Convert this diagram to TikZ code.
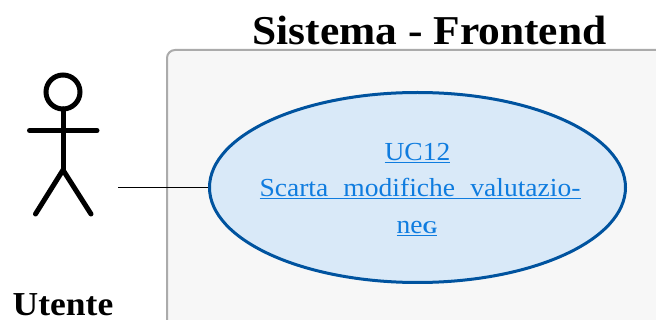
\documentclass[tikz,border=0pt]{standalone}
\usepackage{fontspec}
\setmainfont{Liberation Serif}
\newfontfamily\titlefont[FakeStretch=1.06]{Liberation Serif}
\newfontfamily\bodyfont[FakeStretch=1.06]{Liberation Serif}
\usetikzlibrary{shapes.geometric}
\definecolor{sysfill}{HTML}{F7F7F7}
\definecolor{sysdraw}{HTML}{ABABAB}
\definecolor{ucfill}{HTML}{D9E9F8}
\definecolor{ucdraw}{HTML}{00539F}
\definecolor{uctext}{HTML}{0F7CDF}
\tikzset{
  actorline/.style={line width=5pt,line cap=round,black},
  titletext/.style={font=\titlefont\bfseries\fontsize{41}{46}\selectfont,inner sep=0pt,anchor=base},
  actortext/.style={font=\titlefont\bfseries\fontsize{33.5}{38}\selectfont,inner sep=0pt,anchor=base},
  uctextstyle/.style={font=\bodyfont\fontsize{26}{30}\selectfont,text=uctext,inner sep=0pt,anchor=base},
  usecase/.style={ellipse,draw=ucdraw,fill=ucfill,line width=3pt,minimum width=416pt,minimum height=190pt,inner sep=0pt},
  link/.style={line width=1.3pt,black}
}
\begin{document}
\begin{tikzpicture}[x=1pt,y=-1pt]
\useasboundingbox (0,0) rectangle (656,320);
\clip (0,0) rectangle (656,320);
\draw[sysdraw,fill=sysfill,line width=2pt,rounded corners=8pt] (167,50) rectangle (680,345);
\node[titletext] (title) at (429.5,45) {Sistema - Frontend};
\draw[actorline] (63,92) circle[radius=17];
\draw[actorline] (63,109) -- (63,170);
\draw[actorline] (29.5,130.5) -- (97,130.5);
\draw[actorline] (35.5,214) -- (63,170) -- (91,214);
\node[actortext] (actorlabel) at (63,316) {Utente};
\node[usecase] (uc) at (417.5,187.5) {};
\coordinate (actorend) at (118,187.5);
\draw[link] (actorend) -- (uc.west);
\node[uctextstyle] (l1) at (417.5,161) {\underline{UC12}};
\node[uctextstyle] (l2) at (420,197) {\underline{\makebox[321pt][s]{Scarta\hfil modifiche\hfil valutazio-}}};
\node[uctextstyle] (l3) at (417,234) {\underline{ne{\fontsize{18}{20}\selectfont\bfseries G}}};
\end{tikzpicture}
\end{document}
